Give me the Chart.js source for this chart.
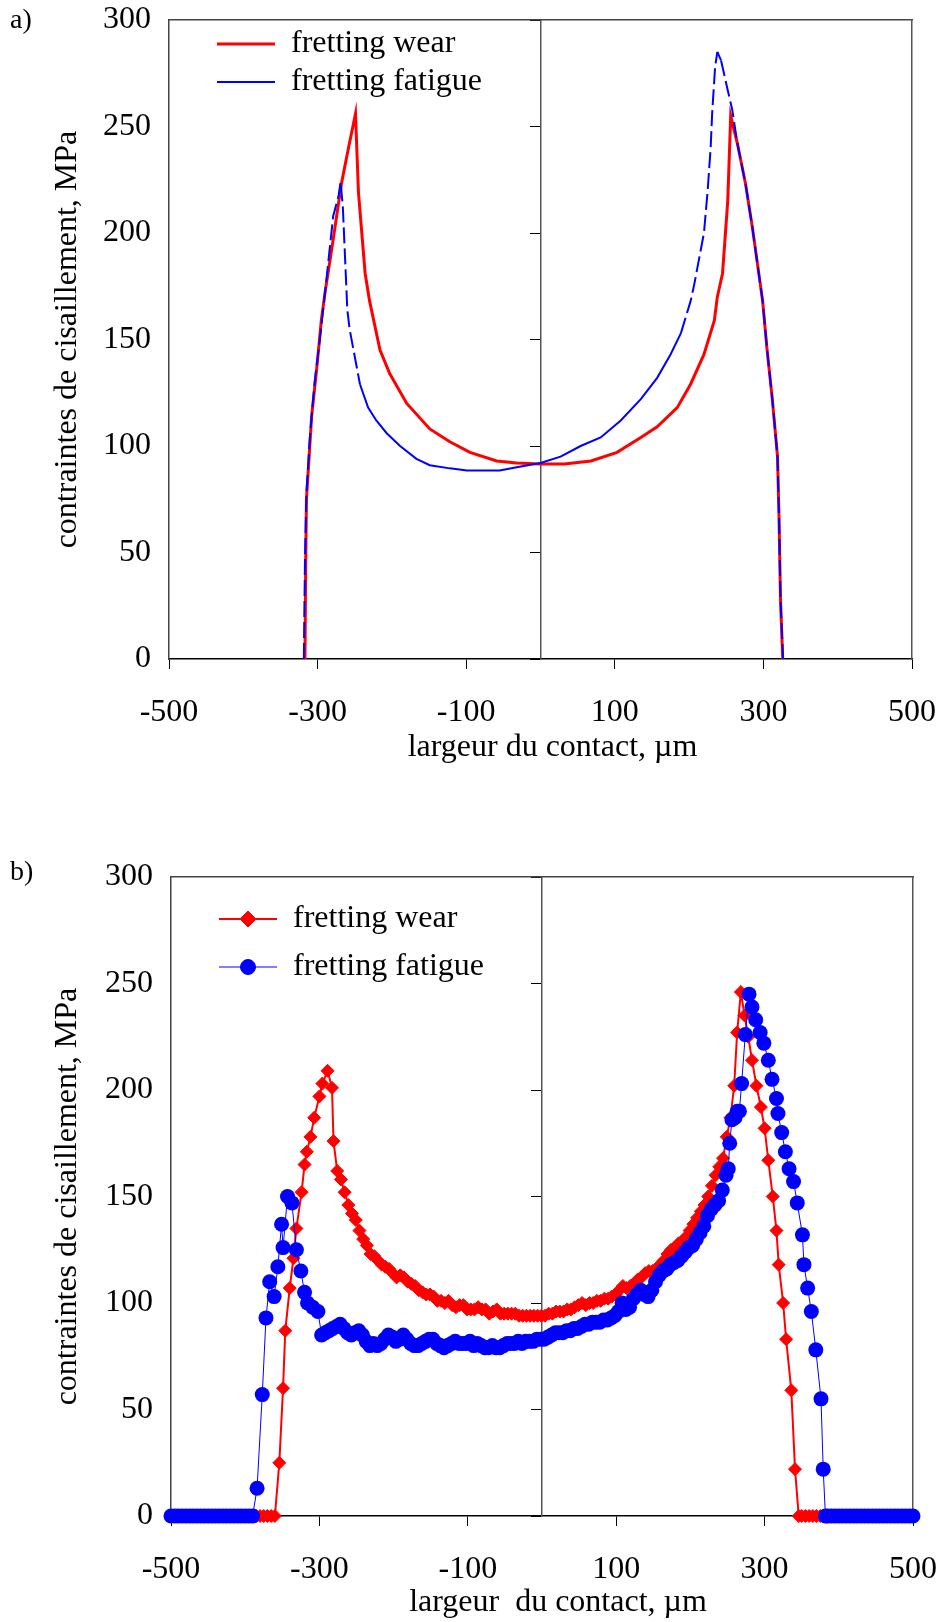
<!DOCTYPE html>
<html><head><meta charset="utf-8">
<script src="https://cdn.jsdelivr.net/npm/chart.js@4.4.1/dist/chart.umd.min.js"></script>
<style>
html,body{margin:0;padding:0;background:#fff;}
#wrap{position:relative;width:948px;height:1622px;overflow:hidden;}
canvas{position:absolute;left:0;}
.lab{position:absolute;left:10px;font-family:"Liberation Serif","Times New Roman",serif;font-size:28px;line-height:28px;color:#000;}
</style></head><body>
<div id="wrap">
<canvas id="ca" width="948" height="800" style="top:0;width:948px;height:800px"></canvas>
<canvas id="cb" width="948" height="822" style="top:800px;width:948px;height:822px"></canvas>
<div class="lab" style="top:5px">a)</div>
<div class="lab" style="top:857px">b)</div>
</div>
<script>
// ---------- labels / ticks ----------
const seriesNames = ['fretting wear', 'fretting fatigue'];
const xTickValues = [-500, -300, -100, 100, 300, 500];
const yTickValues = [0, 50, 100, 150, 200, 250, 300];
const xTitleA = 'largeur du contact, µm';
const xTitleB = 'largeur  du contact, µm';
const yTitle = 'contraintes de cisaillement, MPa';

// ---------- chart a) : [x (µm), stress (MPa)] ----------
const wearA = [[-317,0],[-316,46],[-315,75],[-308,114],[-301,137],[-295,159],[-290,172],[-279,197],[-268,223],[-259,239],
 [-249,256],[-245,219],[-236,181],[-230,168],[-216,145],[-203,134],[-180,120],[-149,108],[-122,102],[-95,97],
 [-59,93],[-32,92],[0,91.5],[32,91.5],[68,93],[103,97],[135,104],[157,109],[184,118],[202,129],
 [220,143],[234,159],[238,170],[245,181],[252,215],[256,255],[265,242],[276,223],[285,203],[299,168],
 [305,145],[312,122],[319,95],[321,67],[323,28],[326,0]];
const fatigueA = [[-318.5,0],[-317,46],[-315,78],[-310,106],[-304,130],[-297,150],[-290,172],[-279,208],[-272,217],[-269,224],
 [-266,212],[-262,180],[-260,164],[-257,155],[-250,142],[-243,129],[-232,118],[-221,112],[-207,106],[-189,100],
 [-167,94],[-149,91],[-122,89.5],[-99,88.5],[-55,88.5],[-32,90],[0,92],[27,95],[54,100],[81,104],
 [108,112],[135,122],[157,132],[175,143],[189,153],[202,168],[207,176],[220,200],[225,220],[229,240],
 [231,256],[235,278],[238,285],[243,281],[252,267],[258,258],[265,242],[276,223],[285,203],[299,168],
 [305,145],[312,122],[319,95],[321,67],[323,28],[326.5,0]];

// ---------- chart b) : [x (µm), stress (MPa)] ----------
const wearB = [[-500,0],[-495,0],[-490,0],[-485,0],[-480,0],[-475,0],[-470,0],[-465,0],[-460,0],[-455,0],
 [-450,0],[-445,0],[-440,0],[-435,0],[-430,0],[-425,0],[-420,0],[-415,0],[-410,0],[-405,0],
 [-400,0],[-395,0],[-390,0],[-385,0],[-380,0],[-375,0],[-370,0],[-365,0],[-360,0],
 [-354,25],[-349,60],[-346,87],[-340,107],[-335,121],[-331,135],[-324,152],[-320,165],[-317,171],[-312,178],
 [-307,187],[-300,197],[-296,203],[-289,209],[-283,201],[-281,176],[-276,162],[-271,158],[-266,152],[-261,146],
 [-256,142],[-251,139],[-246,134],[-241,130],[-236,127],[-231,123],[-226,122],[-221,120],[-216,118],[-211,117],
 [-206,116],[-201,114],[-196,112],[-191,113],[-186,112],[-181,110],[-176,109],[-171,108],[-166,106],[-161,105],
 [-156,104],[-151,104],[-146,103],[-141,101],[-136,101],[-131,100],[-126,101],[-121,99],[-116,98],[-111,99],
 [-106,99],[-101,97],[-96,97],[-91,97],[-86,98],[-81,97],[-76,97],[-71,95],[-66,96],[-61,97],
 [-56,95],[-51,95],[-46,95],[-41,95],[-36,95],[-31,94],[-26,94],[-21,94],[-16,94],[-11,94],
 [-6,94],[-1,94],[4,94],[9,95],[14,95],[19,96],[24,96],[29,96],[34,97],[39,97],
 [44,98],[49,99],[54,100],[59,99],[64,100],[69,100],[74,101],[79,101],[84,102],[89,102],
 [94,103],[99,104],[104,106],[109,108],[114,107],[119,108],[124,109],[129,111],[134,112],[139,114],
 [144,115],[149,115],[154,116],[159,118],[164,120],[169,123],[174,125],[179,126],[184,128],[189,129],
 [194,131],[199,134],[204,137],[209,140],[214,143],[219,146],[224,150],[229,155],[234,160],[239,164],
 [244,168],[249,178],[254,187],[259,202],[263,227],[268,246],[273,235],[278,225],[283,214],[289,202],
 [295,192],[300,182],[305,167],[311,150],[316,134],[319,118],[325,100],[329,83],[336,59],[341,22],
 [346,0],[350,0],[355,0],[360,0],[365,0],[370,0],[375,0],[380,0],[385,0],[390,0],
 [395,0],[400,0],[405,0],[410,0],[415,0],[420,0],[425,0],[430,0],[435,0],[440,0],
 [445,0],[450,0],[455,0],[460,0],[465,0],[470,0],[475,0],[480,0],[485,0],[490,0],[495,0],[500,0]];
const fatigueB = [[-500,0],[-495,0],[-490,0],[-485,0],[-480,0],[-475,0],[-470,0],[-465,0],[-460,0],[-455,0],
 [-450,0],[-445,0],[-440,0],[-435,0],[-430,0],[-425,0],[-420,0],[-415,0],[-410,0],[-405,0],
 [-400,0],[-395,0],[-390,0],
 [-384,13],[-377,57],[-372,93],[-367,110],[-361,103],[-356,117],[-351,137],[-349,126],[-343,150],[-337,147],
 [-331,125],[-325,115],[-320,105],[-316,100],[-309,98],[-302,96],[-297,85],[-292,86],[-287,87],[-282,88],
 [-277,89],[-272,90],[-267,88],[-262,86],[-257,85],[-252,86],[-247,87],[-242,85],[-237,82],[-232,80],
 [-227,81],[-222,80],[-217,81],[-212,83],[-207,85],[-202,84],[-197,82],[-192,83],[-187,85],[-182,83],
 [-177,81],[-172,80],[-167,80],[-162,81],[-157,82],[-152,83],[-147,83],[-142,81],[-137,80],[-132,79],
 [-127,80],[-122,81],[-117,82],[-112,81],[-107,81],[-102,81],[-97,82],[-92,80],[-87,81],[-82,80],
 [-77,79],[-72,79],[-67,80],[-62,79],[-57,79],[-52,80],[-47,81],[-42,81],[-37,81],[-32,82],
 [-27,81],[-22,82],[-17,82],[-12,82],[-7,83],[-2,83],[3,83],[8,84],[13,85],[18,86],
 [23,86],[28,86],[33,87],[38,87],[43,88],[48,88],[53,89],[58,90],[63,90],[68,91],
 [73,91],[78,91],[83,92],[88,92],[93,93],[98,94],[103,96],[108,100],[113,97],[118,98],
 [123,102],[128,104],[133,106],[138,104],[143,103],[148,106],[153,110],[158,113],[163,115],[168,116],
 [173,118],[178,119],[183,120],[188,122],[193,124],[198,126],[203,127],[208,130],[213,133],[218,136],
 [223,141],[228,144],[233,146],[238,148],[243,153],[248,160],[251,163],[253,175],[256,186],[260,187],
 [263,190],[266,190],[269,203],[274,226],[279,245],[283,239],[288,233],[294,227],[299,222],[305,214],
 [310,205],[316,196],[318,189],[323,180],[328,171],[333,163],[339,157],[344,147],[351,132],[353,118],
 [358,107],[363,96],[369,78],[376,55],[379,22],[382,0],
 [385,0],[390,0],[395,0],[400,0],[405,0],[410,0],[415,0],[420,0],[425,0],[430,0],
 [435,0],[440,0],[445,0],[450,0],[455,0],[460,0],[465,0],[470,0],[475,0],[480,0],
 [485,0],[490,0],[495,0],[500,0]];

// ---------- styling / helpers ----------
const FONT = '"Liberation Serif","Times New Roman",serif';
const RED = '#ff0000', BLUE = '#0000ff';
const toXY = arr => arr.map(p => ({x: p[0], y: p[1]}));
const f32 = {family: FONT, size: 32};

const legendPlace = {
  id: 'legendPlace',
  afterLayout(chart, args, opts) {
    const L = chart.legend;
    if (!L || !opts) return;
    const w = L.width, h = L.height;
    L.left = opts.left; L.top = opts.top;
    L.right = L.left + w; L.bottom = L.top + h + 400;
    if (L.adjustHitBoxes) L.adjustHitBoxes();
  }
};

function zeroPad(s) { s.paddingLeft = 0; s.paddingRight = 0; s.paddingTop = 0; s.paddingBottom = 0; }

function makeScales(o) {
  return {
    x: {
      type: 'linear', axis: 'x', position: 'bottom', min: -500, max: 500,
      afterBuildTicks: s => { s.ticks = xTickValues.map(v => ({value: v})); },
      grid: {display: true, drawOnChartArea: false, drawTicks: true, tickLength: 10, color: '#000', lineWidth: 1},
      border: {display: true, color: '#000', width: 1.5},
      ticks: {color: '#000', font: f32, padding: 24, maxRotation: 0, autoSkip: false, callback: v => String(v)},
      title: {display: true, text: o.xTitle, color: '#000', font: f32, padding: {top: 0, bottom: o.xTitlePad}},
      afterFit: s => { s.height = o.xHeight; zeroPad(s); }
    },
    y: {
      type: 'linear', axis: 'y', position: 'left', min: 0, max: 300,
      afterBuildTicks: s => { s.ticks = yTickValues.map(v => ({value: v})); },
      grid: {display: false, drawTicks: false},
      border: {display: true, color: '#444', width: 1.5},
      ticks: {color: '#000', font: f32, padding: 18, callback: v => String(v)},
      title: {display: true, text: yTitle, color: '#000', font: f32, padding: {top: 48, bottom: 0}},
      afterFit: s => { s.width = o.yWidth; zeroPad(s); }
    },
    ymid: {
      type: 'linear', axis: 'y', position: {x: 0}, min: 0, max: 300,
      afterBuildTicks: s => { s.ticks = yTickValues.map(v => ({value: v})); },
      grid: {display: true, drawOnChartArea: false, drawTicks: true, tickLength: 10, color: '#000', lineWidth: 1},
      border: {display: true, color: '#555', width: 1.5},
      ticks: {display: false},
      afterFit: s => { zeroPad(s); }
    },
    xtop: {
      type: 'linear', axis: 'x', position: 'top', min: -500, max: 500,
      grid: {display: false, drawTicks: false}, ticks: {display: false},
      border: {display: true, color: '#444', width: 1.5},
      afterFit: s => { s.height = 0; zeroPad(s); }
    },
    yright: {
      type: 'linear', axis: 'y', position: 'right', min: 0, max: 300,
      grid: {display: false, drawTicks: false}, ticks: {display: false},
      border: {display: true, color: '#555', width: 1.5},
      afterFit: s => { s.width = 0; zeroPad(s); }
    }
  };
}

const steep = ctx => Math.abs(ctx.p1.y - ctx.p0.y) > 3 * Math.abs(ctx.p1.x - ctx.p0.x);

// ---------- chart a ----------
new Chart(document.getElementById('ca'), {
  type: 'line',
  data: {
    datasets: [
      {label: seriesNames[0], data: toXY(wearA), borderColor: RED, backgroundColor: RED, borderWidth: 3,
       pointRadius: 0, tension: 0, order: 1, yAxisID: 'y', xAxisID: 'x'},
      {label: seriesNames[1], data: toXY(fatigueA), borderColor: BLUE, backgroundColor: BLUE, borderWidth: 2,
       pointRadius: 0, tension: 0, order: 0, yAxisID: 'y', xAxisID: 'x',
       segment: {borderDash: ctx => steep(ctx) ? [16, 5] : undefined}}
    ]
  },
  options: {
    responsive: false, animation: false, devicePixelRatio: 1,
    layout: {padding: {top: 20, right: 36, bottom: 0, left: 0}},
    scales: makeScales({xTitle: '   ' + xTitleA, xTitlePad: 33, xHeight: 141, yWidth: 169}),
    plugins: {
      tooltip: {enabled: false},
      legendPlace: {left: 211, top: 22},
      legend: {
        display: true, position: 'chartArea', align: 'start',
        labels: {
          usePointStyle: true, pointStyleWidth: 58, boxWidth: 58, padding: 6, color: '#000', font: f32,
          generateLabels: chart => chart.data.datasets.map((ds, i) => ({
            text: ds.label, fillStyle: ds.borderColor, strokeStyle: ds.borderColor,
            lineWidth: ds.borderWidth, pointStyle: 'line', datasetIndex: i, hidden: false, fontColor: '#000'
          }))
        }
      }
    }
  },
  plugins: [legendPlace]
});

// ---------- chart b ----------
function glyph(color, lineW, style, r) {
  const c = document.createElement('canvas');
  c.width = 58; c.height = 20;
  const g = c.getContext('2d');
  g.strokeStyle = color; g.lineWidth = lineW;
  g.beginPath(); g.moveTo(0, 10); g.lineTo(58, 10); g.stroke();
  g.fillStyle = color; g.lineWidth = 1;
  if (Chart.helpers && Chart.helpers.drawPoint) {
    Chart.helpers.drawPoint(g, {pointStyle: style, radius: r, rotation: 0, borderWidth: 1}, 29, 10);
  } else {
    g.beginPath(); g.arc(29, 10, r, 0, Math.PI * 2); g.fill();
  }
  return c;
}
const glyphs = [glyph(RED, 2, 'rectRot', 8), glyph(BLUE, 1, 'circle', 7.5)];

new Chart(document.getElementById('cb'), {
  type: 'line',
  data: {
    datasets: [
      {label: seriesNames[0], data: toXY(wearB), borderColor: RED, backgroundColor: RED, borderWidth: 2,
       pointStyle: 'rectRot', pointRadius: 6.5, pointBackgroundColor: RED, pointBorderColor: RED, pointBorderWidth: 1,
       tension: 0, order: 1, clip: false, yAxisID: 'y', xAxisID: 'x'},
      {label: seriesNames[1], data: toXY(fatigueB), borderColor: BLUE, backgroundColor: BLUE, borderWidth: 1,
       pointStyle: 'circle', pointRadius: 7.5, pointBackgroundColor: BLUE, pointBorderColor: BLUE, pointBorderWidth: 0,
       tension: 0, order: 0, clip: false, yAxisID: 'y', xAxisID: 'x'}
    ]
  },
  options: {
    responsive: false, animation: false, devicePixelRatio: 1,
    layout: {padding: {top: 77, right: 35, bottom: 0, left: 0}},
    scales: makeScales({xTitle: '    ' + xTitleB, xTitlePad: 0, xHeight: 106, yWidth: 171}),
    plugins: {
      tooltip: {enabled: false},
      legendPlace: {left: 203, top: 87},
      legend: {
        display: true, position: 'chartArea', align: 'start',
        labels: {
          usePointStyle: true, pointStyleWidth: 58, boxWidth: 58, padding: 16, color: '#000', font: f32,
          generateLabels: chart => chart.data.datasets.map((ds, i) => ({
            text: ds.label, fillStyle: ds.borderColor, strokeStyle: ds.borderColor,
            lineWidth: 0, pointStyle: glyphs[i], datasetIndex: i, hidden: false, fontColor: '#000'
          }))
        }
      }
    }
  },
  plugins: [legendPlace]
});
</script>
</body></html>
